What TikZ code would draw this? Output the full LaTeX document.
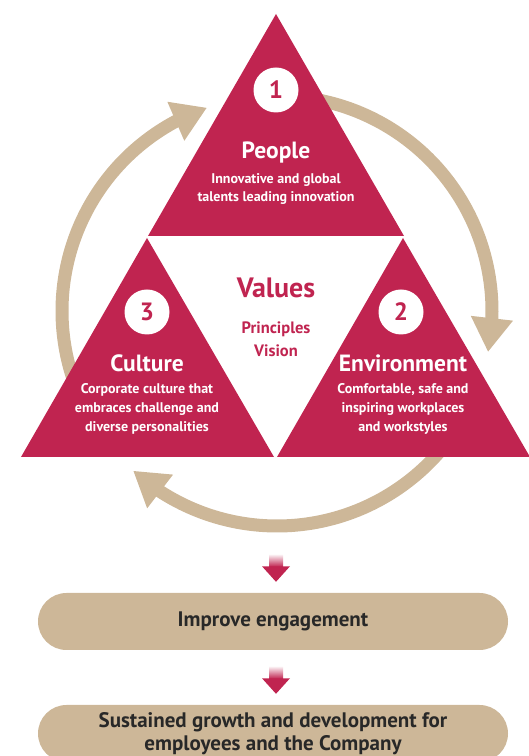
\documentclass[tikz,border=0pt]{standalone}
\usepackage{fontspec}
\setmainfont{PT Sans}
\usetikzlibrary{positioning, arrows.meta, bending, calc, shapes.misc}

\definecolor{crimson}{RGB}{192,36,80}
\definecolor{sand}{RGB}{205,183,152}
\definecolor{ink}{RGB}{40,40,40}

\begin{document}
\begin{tikzpicture}[
    x=1pt, y=1pt,
    badge/.style={circle, fill=white, minimum size=45pt, inner sep=0pt, text=crimson, font=\fontsize{25}{25}\selectfont\bfseries},
    title/.style={text=white, font=\fontsize{23.5}{23.5}\selectfont\bfseries},
    desc/.style={text=white, align=center, font=\fontsize{14}{18.7}\selectfont\bfseries},
    cycle/.style={draw=sand, line width=13pt, -{Triangle[length=34pt, width=40pt, flex]}},
    pill/.style={rounded rectangle, fill=sand, minimum width=470pt, minimum height=57pt, inner sep=0pt, text=ink, align=center, font=\fontsize{21}{23}\selectfont\bfseries}
]
\clip (0,0) rectangle (529,756);
\useasboundingbox (0,0) rectangle (529,756);

% Cycle arrows behind the triangles
\coordinate (hub) at (277,445);
\draw[cycle] ($(hub)+(215:215)$) arc[start angle=215, end angle=109, radius=215];
\draw[cycle] ($(hub)+(95:215)$) arc[start angle=95, end angle=-11, radius=215];
\draw[cycle] ($(hub)+(-25:215)$) arc[start angle=-25, end angle=-132, radius=215];

% Triangles
\fill[crimson] (276,742) -- (148,520) -- (404,520) -- cycle;
\fill[crimson] (147,518) -- (21,299) -- (274,299) -- cycle;
\fill[crimson] (403,518) -- (277,299) -- (530,299) -- cycle;

% People
\node[badge] (badge1) at (276,666) {1};
\node[title] (people) at (276,603) {People};
\node[desc] (peopleText) at (276,567) {Innovative and global\\talents leading innovation};

% Values
\node[text=crimson, font=\fontsize{28}{28}\selectfont\bfseries] (values) at (276,468) {Values};
\node[text=crimson, align=center, font=\fontsize{16.5}{23}\selectfont\bfseries] (principles) at (276,416.5) {Principles\\Vision};

% Culture
\node[badge] (badge3) at (147,444) {3};
\node[title] (culture) at (147,393) {Culture};
\node[desc] (cultureText) at (147,347) {Corporate culture that\\embraces challenge and\\diverse personalities};

% Environment
\node[badge] (badge2) at (401,444) {2};
\node[title] (environment) at (403,393) {Environment};
\node[desc] (environmentText) at (403,347) {Comfortable, safe and\\inspiring workplaces\\and workstyles};

% Outcomes
\node[pill] (engage) at (273,134.5) {Improve engagement};
\node[pill] (growth) at (273,22.5) {Sustained growth and development for\\employees and the Company};

% Down arrows
\foreach \target in {engage, growth} {
    \shade[top color=white, bottom color=crimson] ($(\target.north)+(-4,39)$) rectangle ($(\target.north)+(10,26)$);
    \fill[crimson] ($(\target.north)+(-11,26.5)$) -- ($(\target.north)+(17,26.5)$) -- ($(\target.north)+(3,11)$) -- cycle;
}

\end{tikzpicture}
\end{document}
